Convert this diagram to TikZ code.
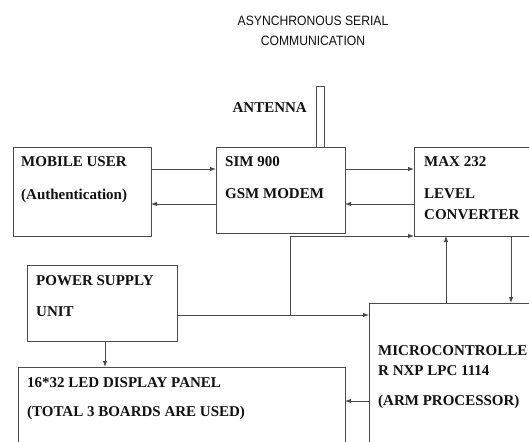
\documentclass[tikz,border=0pt]{standalone}
\usepackage{fontspec}
\setmainfont{Liberation Serif}
\setsansfont{Liberation Sans}
\usetikzlibrary{arrows.meta}
\definecolor{linec}{HTML}{4A4A4A}
\definecolor{txtc}{HTML}{111111}
\begin{document}
\begin{tikzpicture}[x=1pt,y=-1pt,
  box/.style={draw=linec, line width=0.9pt, anchor=north west, inner sep=0pt, outer sep=0pt},
  lbl/.style={anchor=base west, inner sep=0pt, font=\fontsize{15}{18}\selectfont\bfseries, text=txtc},
  ttl/.style={anchor=base, inner sep=0pt, font=\sffamily\fontsize{13.5}{16}\selectfont, text=txtc},
  conn/.style={draw=linec, line width=0.9pt},
  arr/.style={conn, -{Latex[length=6pt,width=4.5pt]}}]
\useasboundingbox (0,0) rectangle (529,441);
\clip (0,0) rectangle (529,441);
\fill[white] (0,0) rectangle (529,441);

% boxes
\node[box, minimum width=138pt, minimum height=89pt] (mob) at (13,147) {};
\node[box, minimum width=129pt, minimum height=86pt] (sim) at (216,147) {};
\node[box, minimum width=130pt, minimum height=89pt] (max) at (414,147) {};
\node[box, minimum width=150pt, minimum height=76pt] (pwr) at (27,265) {};
\node[box, minimum width=327pt, minimum height=100pt] (led) at (18,367) {};
\node[box, minimum width=170pt, minimum height=160pt] (mic) at (369,303) {};
\node[box, minimum width=8pt, minimum height=61pt] (ant) at (316,86) {};

% titles and labels
\node[ttl] (title1) at (313,26) {\scalebox{0.9}[1]{ASYNCHRONOUS SERIAL}};
\node[ttl] (title2) at (313,46) {\scalebox{0.9}[1]{COMMUNICATION}};
\node[lbl, anchor=base east] (antl) at (307,112) {ANTENNA};

\node[lbl] (mob1) at (21,166) {MOBILE USER};
\node[lbl] (mob2) at (21,199) {(Authentication)};
\node[lbl] (sim1) at (225,166) {SIM 900};
\node[lbl] (sim2) at (225,198) {GSM MODEM};
\node[lbl] (max1) at (424,166) {MAX 232};
\node[lbl] (max2) at (424,198) {LEVEL};
\node[lbl] (max3) at (424,219) {CONVERTER};
\node[lbl] (pwr1) at (36,285) {POWER SUPPLY};
\node[lbl] (pwr2) at (36,316) {UNIT};
\node[lbl] (led1) at (27,387) {16*32 LED DISPLAY PANEL};
\node[lbl] (led2) at (27,416) {(TOTAL 3 BOARDS ARE USED)};
\node[lbl] (mic1) at (378,355) {MICROCONTROLLE};
\node[lbl] (mic2) at (378,375) {R NXP LPC 1114};
\node[lbl] (mic3) at (378,405) {(ARM PROCESSOR)};

% helper coordinates
\coordinate (yA) at (0,169);
\coordinate (yB) at (0,204);
\coordinate (yP) at (0,315);
\coordinate (yJ) at (0,236);
\coordinate (yL) at (0,401);
\coordinate (jn) at (290,315);
\coordinate (xU) at (446,0);
\coordinate (xD) at (511,0);
\coordinate (xE) at (105,0);

% connectors
\draw[arr] (mob.east |- yA) -- (sim.west |- yA);
\draw[arr] (sim.west |- yB) -- (mob.east |- yB);
\draw[arr] (sim.east |- yA) -- (max.west |- yA);
\draw[arr] (max.west |- yB) -- (sim.east |- yB);
\draw[arr] (pwr.east |- yP) -- (mic.west |- yP);
\draw[arr] (jn) |- (max.west |- yJ);
\draw[arr] (mic.north -| xU) -- (max.south -| xU);
\draw[arr] (max.south -| xD) -- (mic.north -| xD);
\draw[arr] (mic.west |- yL) -- (led.east |- yL);
\draw[arr] (pwr.south -| xE) -- (led.north -| xE);
\end{tikzpicture}
\end{document}
